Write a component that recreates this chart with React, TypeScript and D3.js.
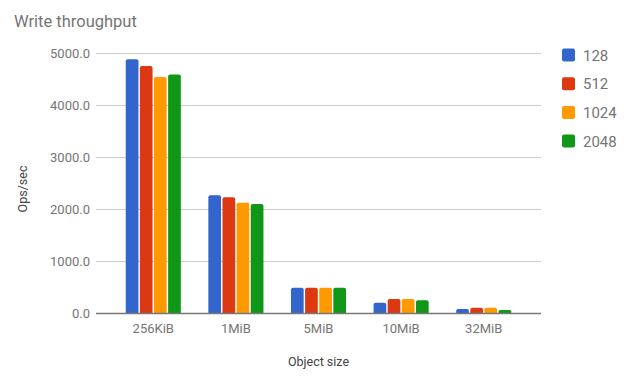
import React from "react";
import * as d3 from "d3";

const categories = ["256KiB", "1MiB", "5MiB", "10MiB", "32MiB"];
const seriesNames = ["128", "512", "1024", "2048"];
const s128 = [4880, 2265, 487, 198, 77];
const s512 = [4750, 2225, 487, 269, 102];
const s1024 = [4540, 2121, 487, 269, 102];
const s2048 = [4585, 2096, 487, 244, 58];
const yTicks = [0, 1000, 2000, 3000, 4000, 5000];
const colors = ["#3366cc", "#dc3912", "#ff9900", "#109618"];

const W = 632, H = 384;
const FONT = "Roboto, 'Noto Sans', Arial, sans-serif";

export default function App() {
  const series = [s128, s512, s1024, s2048];
  const left = 96, right = 541, top = 53, bottom = 313;
  const x = d3.scaleBand<string>().domain(categories).range([left, right]).paddingInner(0.333).paddingOuter(0.36);
  const xi = d3.scaleBand<string>().domain(seriesNames).range([0, x.bandwidth()]).paddingInner(0.1).paddingOuter(0);
  const y = d3.scaleLinear().domain([0, 5000]).range([bottom, top]);
  const fmt = d3.format(".1f");

  const barPath = (x0: number, y0: number, w: number, h: number) => {
    const r = Math.min(2, h / 2);
    return `M${x0},${y0 + h}V${y0 + r}Q${x0},${y0} ${x0 + r},${y0}H${x0 + w - r}Q${x0 + w},${y0} ${x0 + w},${y0 + r}V${y0 + h}Z`;
  };

  return (
    <svg width={W} height={H} style={{ position: "absolute", left: 0, top: 0, background: "#fff" }} fontFamily={FONT}>
      <rect width={W} height={H} fill="#fff" />
      <text x={14} y={27} fontSize={16.5} fill="#757575">Write throughput</text>
      {yTicks.filter((t) => t !== 0).map((t) => (
        <line key={t} x1={left} x2={right} y1={Math.round(y(t)) + 0.5} y2={Math.round(y(t)) + 0.5} stroke="#cccccc" strokeWidth={1} />
      ))}
      {yTicks.map((t) => (
        <text key={"l" + t} x={90} y={y(t) + 4.5} textAnchor="end" fontSize={13} fill="#757575">{fmt(t)}</text>
      ))}
      <text transform={`translate(27,189) rotate(-90)`} textAnchor="middle" fontSize={12.5} fill="#444">Ops/sec</text>
      {categories.map((c, ci) => (
        <g key={c}>
          {series.map((s, si) => {
            const bx = (x(c) as number) + (xi(seriesNames[si]) as number);
            const by = y(s[ci]);
            return <path key={si} d={barPath(bx, by, xi.bandwidth(), bottom - by)} fill={colors[si]} />;
          })}
          <text x={(x(c) as number) + x.bandwidth() / 2} y={333} textAnchor="middle" fontSize={13} fill="#757575">{c}</text>
        </g>
      ))}
      <line x1={left} x2={right} y1={bottom + 0.5} y2={bottom + 0.5} stroke="#777" strokeWidth={1.5} />
      <text x={(left + right) / 2} y={366} textAnchor="middle" fontSize={12.5} fill="#444">Object size</text>
      {seriesNames.map((n, i) => (
        <g key={n} transform={`translate(562,${55 + i * 28.7})`}>
          <rect x={0} y={-6.5} width={13} height={13} rx={2} fill={colors[i]} />
          <text x={21} y={5.5} fontSize={15} fill="#757575">{n}</text>
        </g>
      ))}
    </svg>
  );
}
